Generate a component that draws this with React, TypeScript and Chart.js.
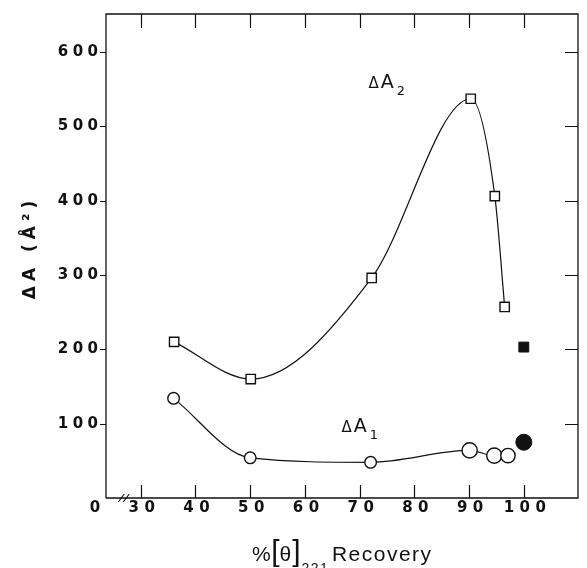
import React, { useEffect, useRef } from "react";
import { Chart, registerables } from "chart.js";

Chart.register(...registerables);

// ---- data ----
const xTickValues = [30, 40, 50, 60, 70, 80, 90, 100];
const xTickLabels = ["30", "40", "50", "60", "70", "80", "90", "100"];
const yTickValues = [100, 200, 300, 400, 500, 600];
const yTickLabels = ["100", "200", "300", "400", "500", "600"];
const originLabel = "0";

const a2X = [36.1, 50.1, 72.2, 90.3, 94.7, 96.5];
const a2Y = [210, 160, 296, 537, 406, 257];
const a1X = [36, 50, 72, 90.1, 94.6, 97.1];
const a1Y = [134, 54, 48, 64, 57, 57];
const a2FilledX = [100];
const a2FilledY = [203];
const a1FilledX = [100];
const a1FilledY = [75];

const yTitle = "ΔA (Å²)";
const xTitleParts = { pct: "%", lb: "[", theta: "θ", rb: "]", sub: "221", word: "Recovery" };
const seriesNames = [
  { delta: "Δ", main: "A", sub: "2", x: 71.6, y: 552 },
  { delta: "Δ", main: "A", sub: "1", x: 66.7, y: 89 },
];

// ---- scale ranges ----
const X_MIN = 23.65;
const X_MAX = 109.9;
const Y_MIN = 0;
const Y_MAX = 651;
const AXIS_BREAK = 26.9;

const FONT = "'Liberation Sans', Arial, Helvetica, sans-serif";
const WIDE = "'DejaVu Sans', Verdana, sans-serif";
const INK = "#111";

function spacedText(
  ctx: CanvasRenderingContext2D,
  text: string,
  x: number,
  y: number,
  spacing: number,
  align: "left" | "right" | "center"
) {
  const chars = Array.from(text);
  const widths = chars.map((c) => ctx.measureText(c).width);
  const total = widths.reduce((s, w) => s + w, 0) + spacing * (chars.length - 1);
  let start = align === "left" ? x : align === "right" ? x - total : x - total / 2;
  ctx.textAlign = "left";
  chars.forEach((c, i) => {
    ctx.fillText(c, start, y);
    start += widths[i] + spacing;
  });
  return total;
}

const framePlugin = {
  id: "frame",
  beforeDatasetsDraw(chart: any) {
    const { ctx, chartArea: a, scales } = chart;
    const xs = scales.x;
    const ys = scales.y;
    ctx.save();
    ctx.strokeStyle = INK;
    ctx.lineWidth = 1.3;
    ctx.beginPath();
    ctx.moveTo(a.left, a.bottom);
    ctx.lineTo(a.left, a.top);
    ctx.lineTo(a.right, a.top);
    ctx.lineTo(a.right, a.bottom);
    ctx.lineTo(a.left, a.bottom);
    ctx.stroke();

    // axis break
    const bx = xs.getPixelForValue(AXIS_BREAK);
    ctx.lineWidth = 1.1;
    ctx.beginPath();
    [-2.5, 2.5].forEach((d) => {
      ctx.moveTo(bx + d - 3, a.bottom + 4);
      ctx.lineTo(bx + d + 3, a.bottom - 4);
    });
    ctx.stroke();

    // ticks
    ctx.lineWidth = 1.2;
    ctx.beginPath();
    xTickValues.forEach((v) => {
      const px = Math.round(xs.getPixelForValue(v)) + 0.5;
      ctx.moveTo(px, a.bottom);
      ctx.lineTo(px, a.bottom - 13);
      ctx.moveTo(px, a.top);
      ctx.lineTo(px, a.top + 14);
    });
    yTickValues.forEach((v) => {
      const py = Math.round(ys.getPixelForValue(v)) + 0.5;
      ctx.moveTo(a.left - 6, py);
      ctx.lineTo(a.left, py);
      ctx.moveTo(a.right, py);
      ctx.lineTo(a.right - 13, py);
    });
    ctx.stroke();
    ctx.restore();
  },
  afterDraw(chart: any) {
    const { ctx, chartArea: a, scales } = chart;
    const xs = scales.x;
    const ys = scales.y;
    ctx.save();
    ctx.fillStyle = INK;

    // tick labels
    ctx.font = `bold 15px ${WIDE}`;
    ctx.textBaseline = "middle";
    yTickValues.forEach((v, i) => {
      spacedText(ctx, yTickLabels[i], a.left - 8, ys.getPixelForValue(v), 4.5, "right");
    });
    ctx.textBaseline = "alphabetic";
    xTickValues.forEach((v, i) => {
      spacedText(ctx, xTickLabels[i], xs.getPixelForValue(v) + 1, a.bottom + 14, 5.5, "center");
    });
    spacedText(ctx, originLabel, a.left - 11, a.bottom + 14, 0, "center");

    // y title
    ctx.save();
    ctx.translate(31, (a.top + a.bottom) / 2 - 6);
    ctx.rotate(-Math.PI / 2);
    ctx.font = `bold 17px ${WIDE}`;
    ctx.textBaseline = "middle";
    spacedText(ctx, yTitle, 0, 0, 5, "center");
    ctx.restore();

    // x title
    ctx.textBaseline = "alphabetic";
    let x = 252;
    const base = 561;
    ctx.font = `21px ${FONT}`;
    ctx.fillText(xTitleParts.pct, x, base);
    x += ctx.measureText(xTitleParts.pct).width + 0.5;
    ctx.font = `30px ${FONT}`;
    ctx.fillText(xTitleParts.lb, x, base);
    x += ctx.measureText(xTitleParts.lb).width;
    ctx.font = `21px ${FONT}`;
    ctx.fillText(xTitleParts.theta, x, base);
    x += ctx.measureText(xTitleParts.theta).width + 1;
    ctx.font = `30px ${FONT}`;
    ctx.fillText(xTitleParts.rb, x, base);
    x += ctx.measureText(xTitleParts.rb).width + 1;
    ctx.font = `14px ${FONT}`;
    x += spacedText(ctx, xTitleParts.sub, x, base + 12, 1.5, "left") + 4;
    ctx.font = `21px ${FONT}`;
    spacedText(ctx, xTitleParts.word, x, base, 1.5, "left");

    // series names
    seriesNames.forEach((s) => {
      let px = xs.getPixelForValue(s.x);
      const py = ys.getPixelForValue(s.y);
      ctx.font = `15px ${WIDE}`;
      ctx.fillText(s.delta, px, py);
      px += ctx.measureText(s.delta).width + 2;
      ctx.font = `19px ${WIDE}`;
      ctx.fillText(s.main, px, py);
      px += ctx.measureText(s.main).width + 3;
      ctx.font = `13px ${WIDE}`;
      ctx.fillText(s.sub, px, py + 7);
    });

    ctx.restore();
  },
};

const toPts = (xs: number[], ys: number[]) => xs.map((x, i) => ({ x, y: ys[i] }));

export default function App() {
  const ref = useRef<HTMLCanvasElement>(null);
  useEffect(() => {
    if (!ref.current) return;
    const chart = new Chart(ref.current, {
      type: "scatter",
      data: {
        datasets: [
          {
            label: "ΔA2",
            data: toPts(a2X, a2Y),
            showLine: true,
            borderColor: INK,
            borderWidth: 1.2,
            cubicInterpolationMode: "monotone",
            pointStyle: "rect",
            pointRadius: 6.6,
            pointBorderWidth: 1.4,
            pointBorderColor: INK,
            pointBackgroundColor: "#fff",
            clip: false,
          } as any,
          {
            label: "ΔA1",
            data: toPts(a1X, a1Y),
            showLine: true,
            borderColor: INK,
            borderWidth: 1.2,
            cubicInterpolationMode: "monotone",
            pointStyle: "circle",
            pointRadius: [5.8, 5.8, 5.8, 7.6, 7.6, 7.2],
            pointBorderWidth: 1.4,
            pointBorderColor: INK,
            pointBackgroundColor: "#fff",
            clip: false,
          } as any,
          {
            label: "ΔA2 filled",
            data: toPts(a2FilledX, a2FilledY),
            showLine: false,
            pointStyle: "rect",
            pointRadius: 7,
            pointBorderWidth: 1,
            pointBorderColor: INK,
            pointBackgroundColor: INK,
            clip: false,
          } as any,
          {
            label: "ΔA1 filled",
            data: toPts(a1FilledX, a1FilledY),
            showLine: false,
            pointStyle: "circle",
            pointRadius: 8,
            pointBorderWidth: 1,
            pointBorderColor: INK,
            pointBackgroundColor: INK,
            clip: false,
          } as any,
        ],
      },
      options: {
        responsive: false,
        devicePixelRatio: 1,
        animation: false,
        events: [],
        layout: { padding: { left: 106, top: 14, right: 2, bottom: 70 } },
        plugins: { legend: { display: false }, tooltip: { enabled: false } },
        scales: {
          x: { type: "linear", display: false, min: X_MIN, max: X_MAX },
          y: { type: "linear", display: false, min: Y_MIN, max: Y_MAX },
        },
      },
      plugins: [framePlugin],
    });
    return () => chart.destroy();
  }, []);

  return (
    <div style={{ position: "absolute", left: 0, top: 0, width: 587, height: 568, background: "#fff" }}>
      <canvas ref={ref} width={587} height={568} style={{ display: "block", width: 587, height: 568 }} />
    </div>
  );
}
